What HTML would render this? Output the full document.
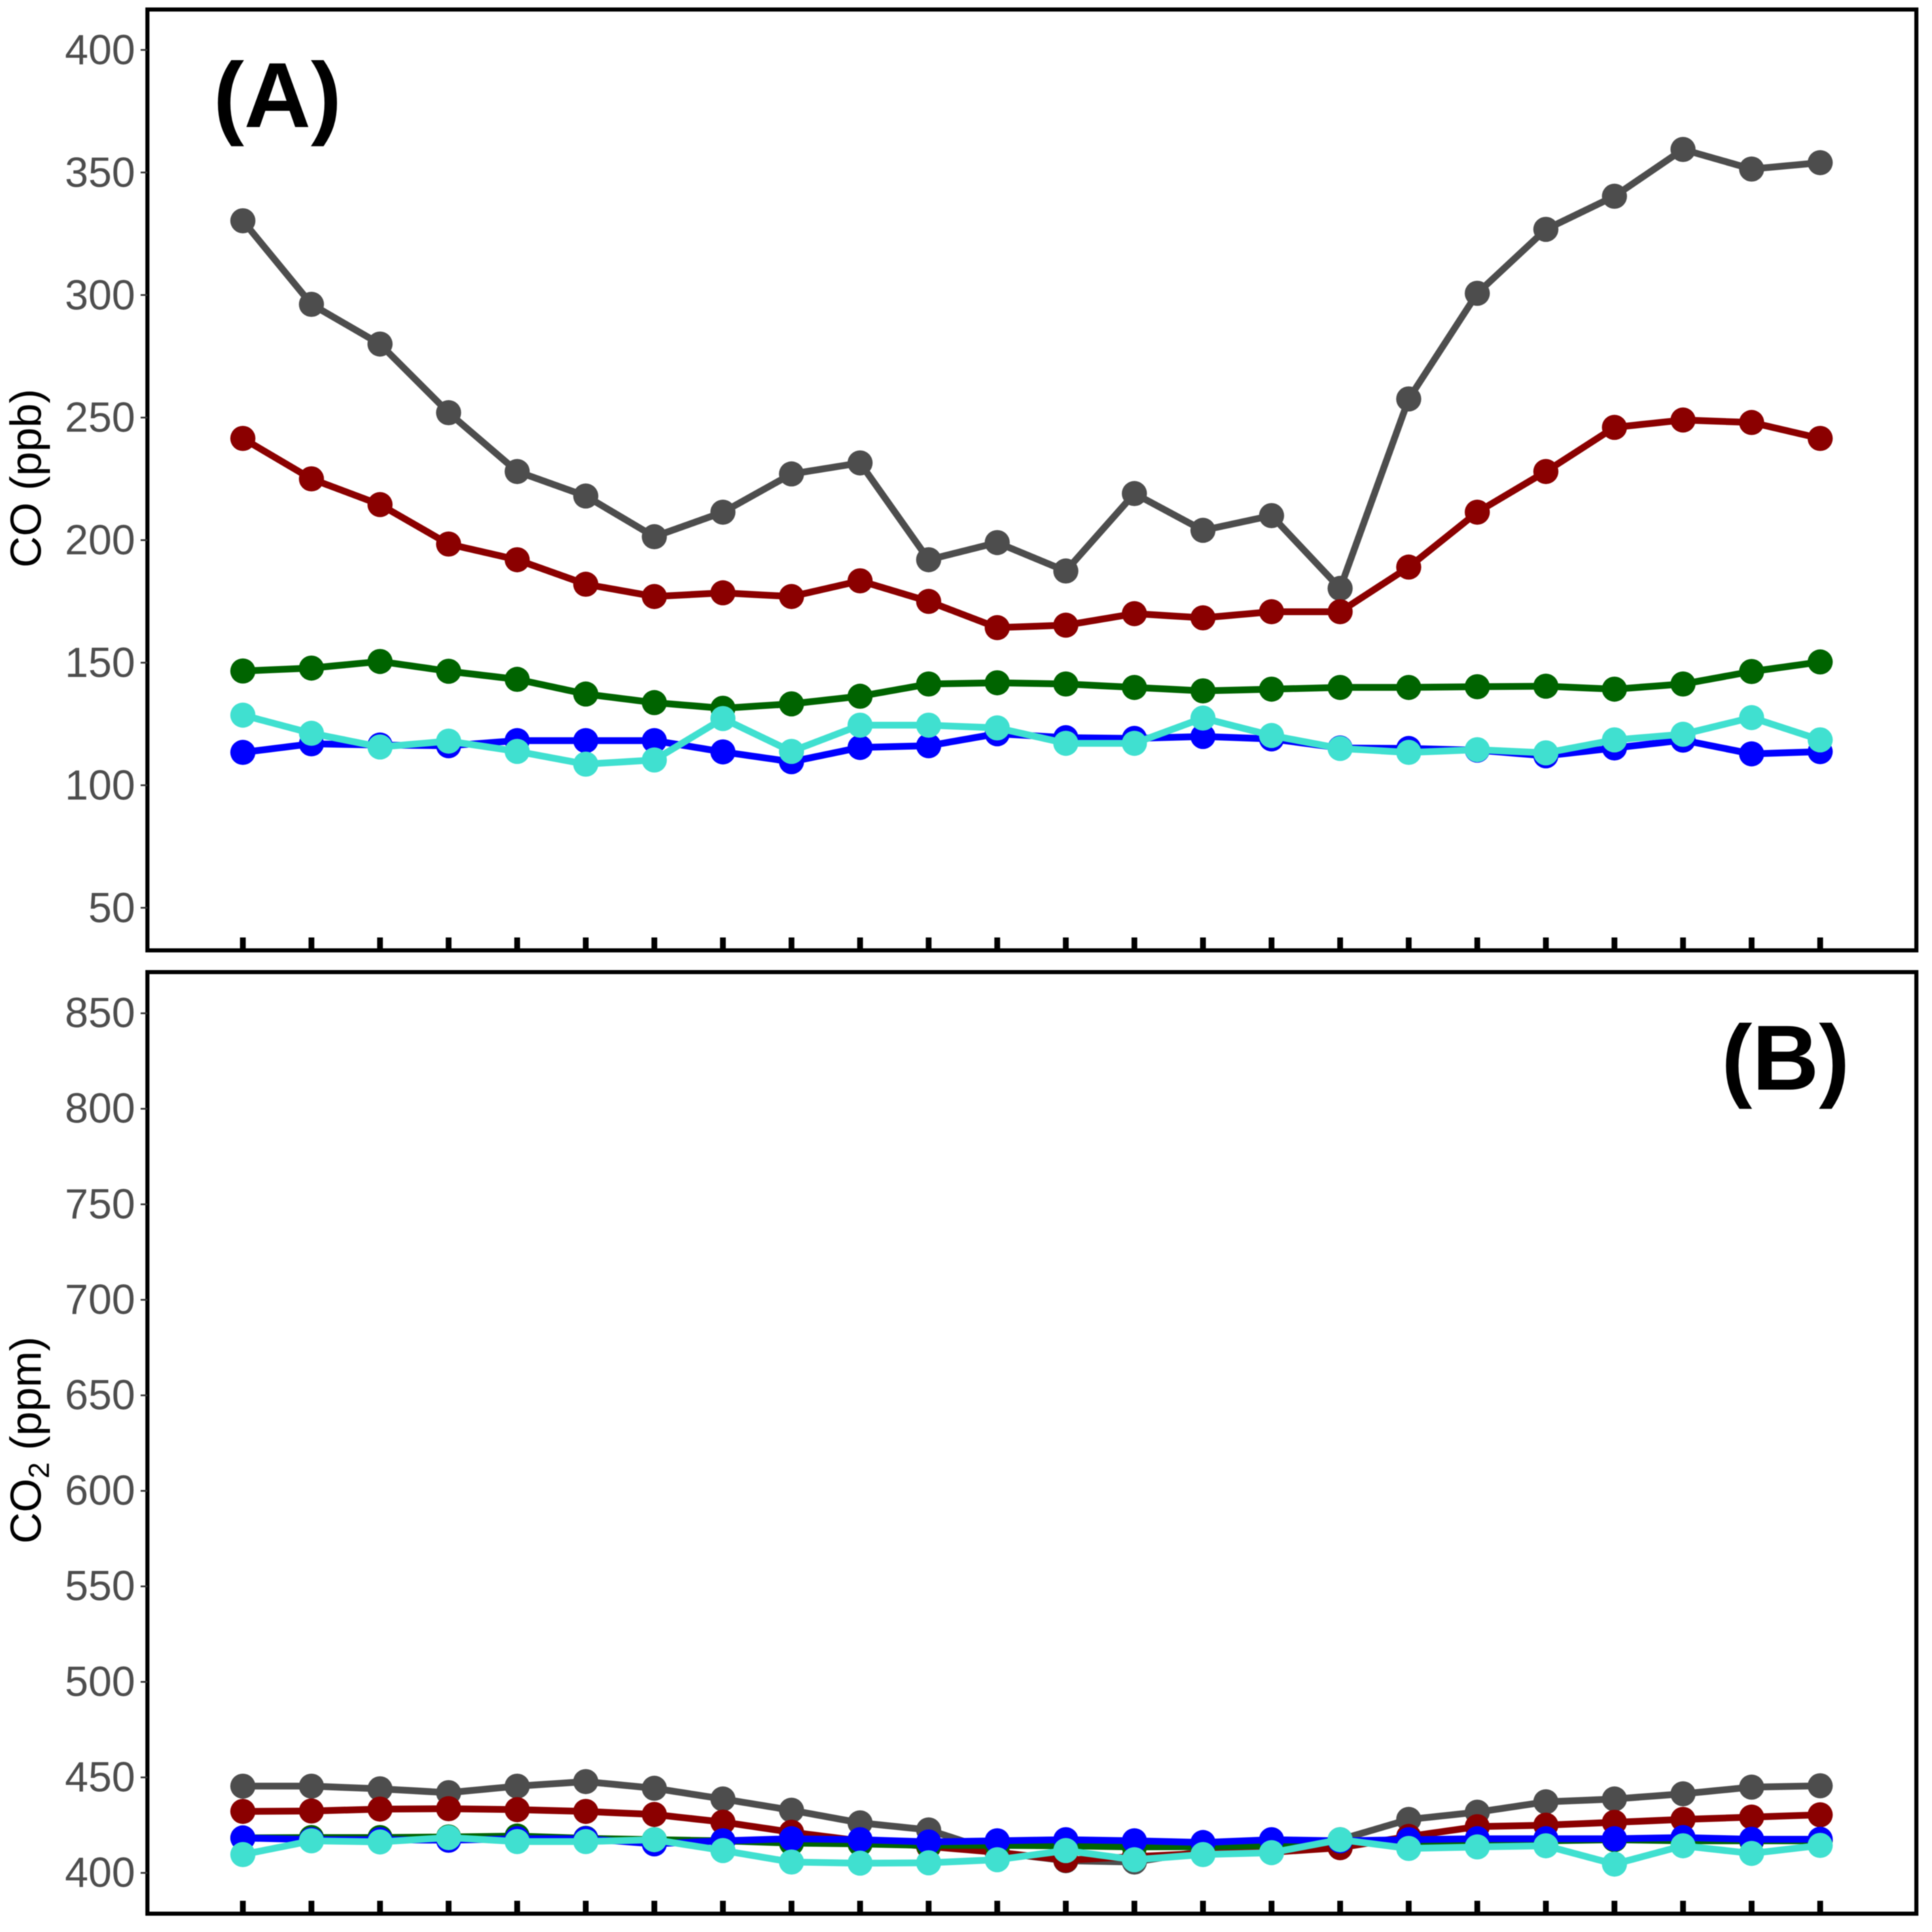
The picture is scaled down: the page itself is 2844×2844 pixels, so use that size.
<!DOCTYPE html>
<html lang="en">
<head>
<meta charset="utf-8">
<title>CO and CO2 diurnal profiles</title>
<style>
html,body{margin:0;padding:0;background:#fff;width:2844px;height:2844px;overflow:hidden}
svg{display:block;font-family:"Liberation Sans",Arial,sans-serif;filter:blur(0.8px)}
</style>
</head>
<body>
<svg id="chart" xmlns="http://www.w3.org/2000/svg" width="2844" height="2844" viewBox="0 0 2844 2844">
  <rect x="0" y="0" width="2844" height="2844" fill="#fff"/>
  <g id="panel-a"></g>
  <g id="panel-b"></g>
  <text x="314" y="187" font-size="136" font-weight="700" fill="#000">(A)</text>
  <text x="2534" y="1604" font-size="136" font-weight="700" fill="#000">(B)</text>
  <text transform="translate(60 704) rotate(-90)" text-anchor="middle" font-size="64" fill="#000">CO (ppb)</text>
  <text transform="translate(60 2120) rotate(-90)" text-anchor="middle" font-size="64" fill="#000">CO<tspan font-size="43" dy="12">2</tspan><tspan dy="-12"> (ppm)</tspan></text>
</svg>
<script>
const categories = [0,1,2,3,4,5,6,7,8,9,10,11,12,13,14,15,16,17,18,19,20,21,22,23];
const seriesNames = ['gray','red','green','blue','cyan'];
const seriesColors = ['#4d4d4d','#8b0000','#006400','#0000ff','#40e0d0'];

const ticksA = [50,100,150,200,250,300,350,400];
const coGray = [330.3,296.2,280,252,228,218,201.4,211.4,227,231.5,192,199,187.4,219,204,210,180.3,257.6,300.7,326.8,340.3,359.4,351.4,354];
const coRed = [241.5,225,214.5,198.4,192,182,177,178.5,177,183.4,175,164.3,165.3,170,168.3,170.8,170.8,189,211.4,228,246,249,248,241.5];
const coGreen = [146.6,147.8,150.5,146.5,143.2,137.2,133.7,131.4,133.2,136.3,141.3,141.8,141.3,139.9,138.5,139.2,139.9,139.9,140.2,140.4,139.2,141.3,146.4,150.3];
const coBlue = [113.4,116.9,116.4,116.1,118.2,118.2,118.2,113.6,109.6,115.4,116.1,121,119.4,119.1,119.9,118.9,115.2,115,114.3,112,115.2,118.4,112.8,113.7];
const coCyan = [128.6,121.2,115.6,118,113.8,108.6,110.3,127.2,113.8,124.5,124.5,123.4,117.1,117.1,127.4,120.3,115,113.4,114.5,113.2,118.5,120.8,127.6,118.5];

const ticksB = [400,450,500,550,600,650,700,750,800,850];
const co2Gray = [445.4,445.4,444,442,445.4,447.8,444.3,438.7,432.8,426.2,422.5,410.8,406.4,405.7,411.4,411.4,417.4,428,431.8,437.2,438.7,441.4,444.9,445.6];
const co2Red = [432.2,432.4,433.4,433.6,433.1,432.2,430.6,426.6,421.3,416.8,413.8,410.8,406.7,408.5,410.2,410.8,413.2,419.1,424.2,425,426.5,428,429.2,430.4];
const co2Green = [418.3,418.5,418.5,418.8,419.3,418.1,417.4,416.8,415.6,415.2,414.4,414.4,414.2,413.6,413.8,414.4,416.8,416.2,416.8,416.8,417.4,416.8,416.8,416.8];
const co2Blue = [418.3,417.4,417.4,417.1,417.9,417.9,415.2,416.8,417.9,417.4,416.2,416.8,417.4,416.8,415.9,417.4,416.8,417.4,417.9,417.9,417.9,418.5,417.6,417.6];
const co2Cyan = [409.6,416.8,416.2,418.5,416.4,416.4,417.4,411.7,405.7,405.1,405.3,406.9,411.7,406.9,409.6,410.6,417.4,412.8,413.6,414.2,404.6,414.2,410.2,414.4];

const NS = 'http://www.w3.org/2000/svg';
const xFor = i => 357.5 + i * (2679.4 - 357.5) / 23;
const yA = v => 73.5 + (400 - v) * 3.608;
const yB = v => 2757 - (v - 400) * 2.812;

function make(tag, attrs, parent) {
  const el = document.createElementNS(NS, tag);
  for (const k in attrs) el.setAttribute(k, attrs[k]);
  parent.appendChild(el);
  return el;
}

function drawPanel(parent, yScale, ticks, allSeries, box, labelDy) {
  const frame = make('rect', {x: box.l, y: box.t, width: box.r - box.l, height: box.b - box.t, fill: 'none', stroke: '#000', 'stroke-width': 6}, parent);
  
  

  ticks.forEach(t => {
    const y = yScale(t);
    const tick = make('line', {x1: box.l - 10, x2: box.l, y1: y, y2: y, stroke: '#333', 'stroke-width': 2.5}, parent);
    
    
    const label = make('text', {x: 199, y: y + labelDy, 'text-anchor': 'end', 'font-size': 62, fill: '#4d4d4d'}, parent);
    label.textContent = String(t);
    
    
  });

  categories.forEach((c, i) => {
    const x = xFor(i);
    const tick = make('line', {x1: x, x2: x, y1: box.b - 19, y2: box.b, stroke: '#000', 'stroke-width': 8.5}, parent);
    
    
  });

  allSeries.forEach((values, s) => {
    const color = seriesColors[s];
    const group = make('g', {}, parent);
    
    
    const pts = values.map((v, i) => xFor(i).toFixed(1) + ',' + yScale(v).toFixed(1)).join(' ');
    const line = make('polyline', {points: pts, fill: 'none', stroke: color, 'stroke-width': 10, 'stroke-linejoin': 'round'}, group);
    
    
    values.forEach((v, i) => {
      const dot = make('circle', {cx: xFor(i), cy: yScale(v), r: 18.5, fill: color}, group);
      
      
    });
  });
}

drawPanel(document.getElementById('panel-a'), yA, ticksA,
  [coGray, coRed, coGreen, coBlue, coCyan], {l: 217, t: 14, r: 2821, b: 1399}, 21);
drawPanel(document.getElementById('panel-b'), yB, ticksB,
  [co2Gray, co2Red, co2Green, co2Blue, co2Cyan], {l: 217, t: 1431, r: 2821, b: 2817}, 20.5);
</script>
</body>
</html>
